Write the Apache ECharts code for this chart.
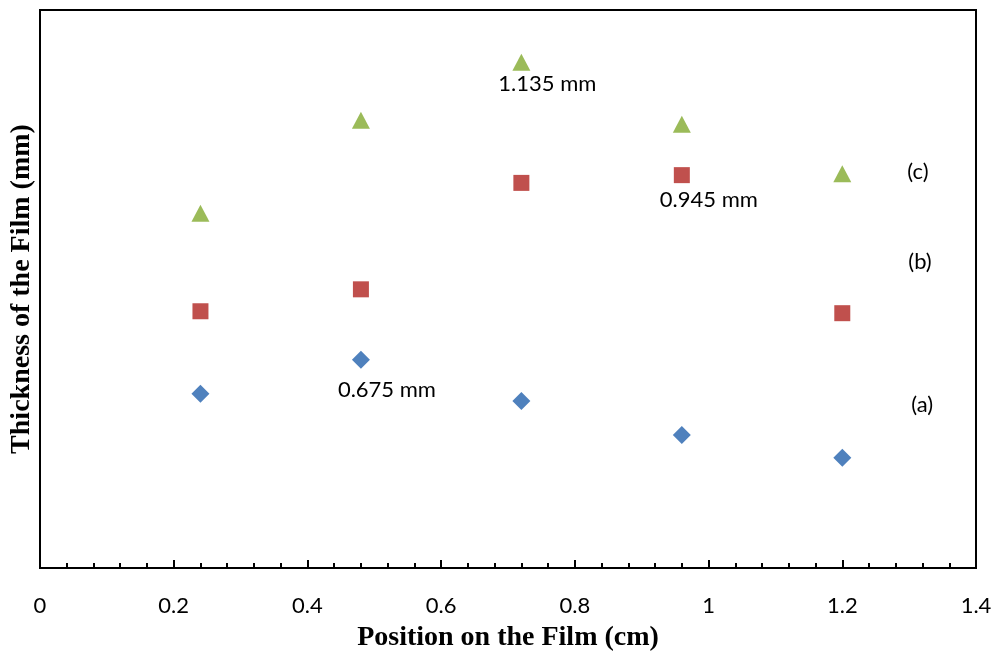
<!DOCTYPE html>
<html>
<head>
<meta charset="utf-8">
<script src="https://cdn.jsdelivr.net/npm/echarts@6/dist/echarts.min.js"></script>
<style>
  html, body { margin: 0; padding: 0; background: #fff; }
  #chart { width: 997px; height: 657px; }
</style>
</head>
<body>
<div id="chart"></div>
<script>
// positions along the film (cm)
const positions = [0.24, 0.48, 0.72, 0.96, 1.2];

// thickness readings (mm)
const seriesA = [0.620, 0.673, 0.609, 0.556, 0.521];
const seriesB = [0.748, 0.782, 0.947, 0.959, 0.745];
const seriesC = [0.900, 1.044, 1.134, 1.038, 0.961];

// text notes attached to points: [index, text]
const notesA = [[1, '0.675 mm'], [4, '(a)']];
const notesB = [[3, '0.945 mm']];
const notesC = [[2, '1.135 mm'], [4, '(c)']];
const noteBLabel = '(b)';

const xTicks = [0, 0.2, 0.4, 0.6, 0.8, 1, 1.2, 1.4];

const labelFont = 'Lato, "Open Sans", sans-serif';

function buildData(values, notes, noteStyle) {
  return values.map((v, i) => {
    const item = { value: [positions[i], v] };
    const note = notes.find((n) => n[0] === i);
    if (note) {
      item.label = Object.assign(
        { show: true, formatter: note[1], color: '#000', fontSize: 22, fontFamily: labelFont },
        noteStyle[note[1]] || {}
      );
    }
    return item;
  });
}

const chart = echarts.init(document.getElementById('chart'));

chart.setOption({
  animation: false,
  backgroundColor: '#fff',
  grid: {
    left: 40, right: 21, top: 10, bottom: 89,
    show: true, borderColor: '#000', borderWidth: 2,
  },
  xAxis: {
    type: 'value',
    min: xTicks[0],
    max: xTicks[xTicks.length - 1],
    interval: 0.2,
    name: 'Position on the Film (cm)',
    nameLocation: 'middle',
    nameGap: 56,
    nameTextStyle: { fontFamily: '"Liberation Serif", serif', fontWeight: 'bold', fontSize: 28, color: '#000' },
    axisLine: { show: true, lineStyle: { color: '#000', width: 2 } },
    axisTick: { show: true, inside: true, length: 8, lineStyle: { color: '#000', width: 2 } },
    minorTick: { show: true, splitNumber: 5, length: 5, lineStyle: { color: '#000', width: 2 } },
    axisLabel: { color: '#000', fontSize: 22, fontFamily: labelFont, margin: 27 },
    splitLine: { show: false },
  },
  yAxis: {
    type: 'value',
    min: 0.35,
    max: 1.215,
    name: 'Thickness of the Film (mm)',
    nameLocation: 'middle',
    nameGap: 4,
    nameTextStyle: { fontFamily: '"Liberation Serif", serif', fontWeight: 'bold', fontSize: 28, color: '#000' },
    axisLine: { show: true, lineStyle: { color: '#000', width: 2 } },
    axisTick: { show: false },
    axisLabel: { show: false },
    splitLine: { show: false },
  },
  series: [
    {
      name: '(a)',
      type: 'scatter',
      symbol: 'diamond',
      symbolSize: [18, 18],
      itemStyle: { color: '#4F81BD', opacity: 1 },
      data: buildData(seriesA, notesA, {
        '0.675 mm': { position: 'bottom', distance: 10, offset: [26, 0] },
        '(a)': { position: 'right', distance: 0, offset: [60, -53] },
      }),
    },
    {
      name: '(b)',
      type: 'scatter',
      symbol: 'rect',
      symbolSize: [16, 16],
      itemStyle: { color: '#C0504D', opacity: 1 },
      data: buildData(seriesB, notesB.concat([[4, noteBLabel]]), {
        '0.945 mm': { position: 'bottom', distance: 6, offset: [27, 0] },
        '(b)': { position: 'right', distance: 0, offset: [58, -51] },
      }),
    },
    {
      name: '(c)',
      type: 'scatter',
      symbol: 'triangle',
      symbolSize: [18, 17],
      itemStyle: { color: '#9BBB59', opacity: 1 },
      data: buildData(seriesC, notesC, {
        '1.135 mm': { position: 'bottom', distance: 2, offset: [26, 0] },
        '(c)': { position: 'right', distance: 0, offset: [56, -2] },
      }),
    },
  ],
});
</script>
</body>
</html>
